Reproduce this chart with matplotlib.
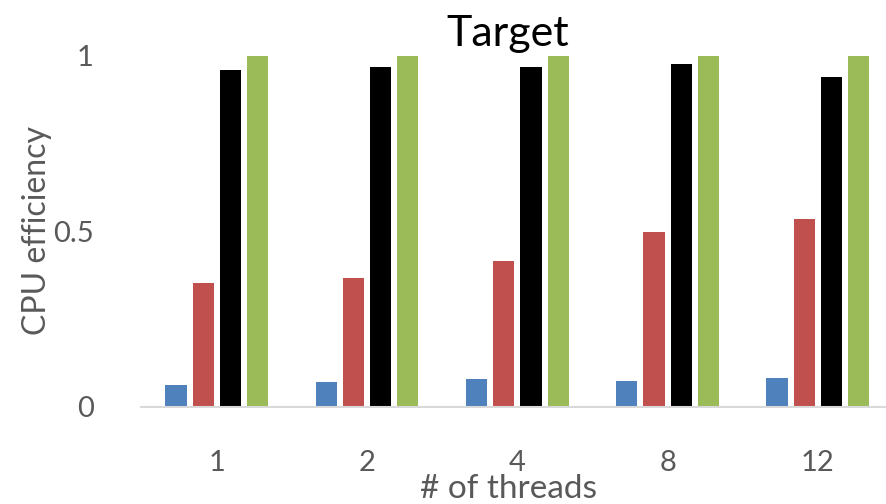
import numpy as np
import matplotlib.pyplot as plt

plt.rcParams['font.family'] = ['Lato', 'DejaVu Sans']

threads = ['1', '2', '4', '8', '12']
series_blue = [0.062, 0.070, 0.078, 0.074, 0.083]
series_red = [0.353, 0.366, 0.415, 0.499, 0.535]
series_black = [0.960, 0.969, 0.969, 0.977, 0.939]
series_green = [1.0, 1.0, 1.0, 1.0, 1.0]

colors = ['#4f81bd', '#c0504d', '#000000', '#9bbb59']
text_grey = '#595959'

fig = plt.figure(figsize=(8.87, 5.04), dpi=100)
ax = fig.add_axes([141 / 887, 97.3 / 504, 1 - 141 / 887, 350.7 / 504])

x = np.arange(len(threads))
width = 0.141
step = 0.181
for i, (vals, c) in enumerate(zip([series_blue, series_red, series_black, series_green], colors)):
    ax.bar(x + (i - 1.5) * step, vals, width, color=c)

ax.set_xlim(-0.504, 4.46)
ax.set_ylim(0, 1)
ax.set_yticks([0, 0.5, 1])
ax.set_yticklabels(['0', '0.5', '1'])
ax.set_xticks(x)
ax.set_xticklabels(threads)

for s in ['top', 'right', 'left']:
    ax.spines[s].set_visible(False)
ax.spines['bottom'].set_color('#d9d9d9')
ax.spines['bottom'].set_linewidth(1.5)
ax.tick_params(axis='both', length=0, labelcolor=text_grey)
ax.tick_params(axis='y', pad=34, labelsize=21)
ax.tick_params(axis='x', pad=31, labelsize=21)

fig.text(37 / 887, 1 - 231 / 504, 'CPU efficiency', fontsize=23, color=text_grey,
         rotation=90, ha='center', va='center')
fig.text(508 / 887, 1 - 498 / 504, '# of threads', fontsize=24, color=text_grey,
         ha='center', va='baseline')
fig.text(508 / 887, 1 - 46 / 504, 'Target', fontsize=31, color='black',
         ha='center', va='baseline')

fig.savefig('out.png', dpi=100)
